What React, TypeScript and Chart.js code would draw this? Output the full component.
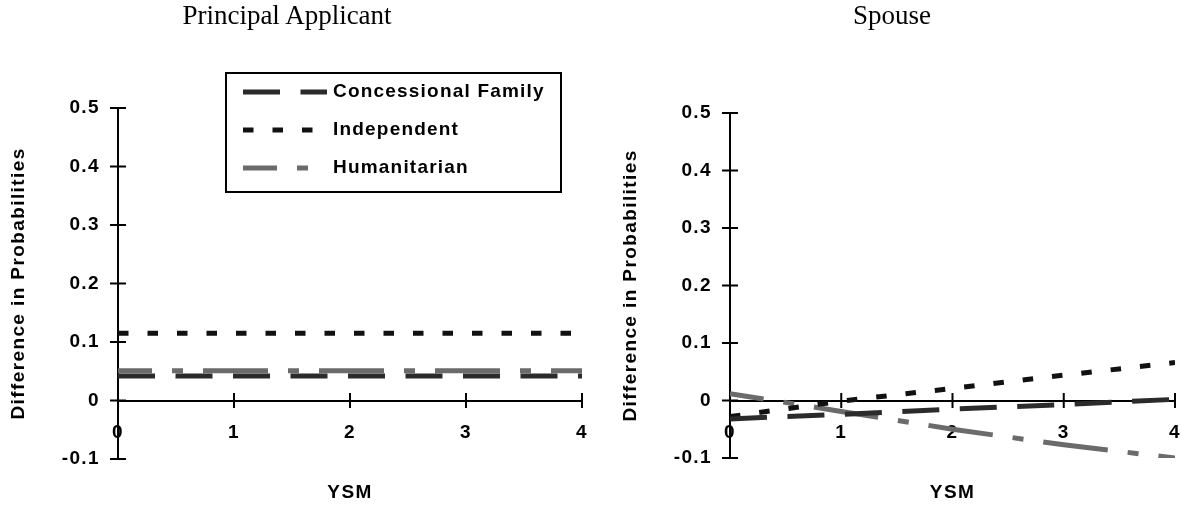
import React, { useEffect, useRef } from 'react';
import { Chart, registerables } from 'chart.js';

Chart.register(...registerables);

// ---------- data ----------
const YSM_VALUES = [0, 1, 2, 3, 4];
const SERIES_NAMES = ['Concessional Family', 'Independent', 'Humanitarian'];
const PANEL_TITLES = ['Principal Applicant', 'Spouse'];
const Y_AXIS_TITLE = 'Difference in Probabilities';
const X_AXIS_TITLE = 'YSM';
const Y_MIN = -0.1;
const Y_MAX = 0.5;
const Y_STEP = 0.1;
const X_MIN = 0;
const X_MAX = 4;
const X_STEP = 1;

const PA_CONCESSIONAL = [0.042, 0.042, 0.042, 0.042, 0.042];
const PA_INDEPENDENT = [0.115, 0.115, 0.115, 0.115, 0.115];
const PA_HUMANITARIAN = [0.051, 0.051, 0.051, 0.051, 0.051];

const SP_CONCESSIONAL = [-0.032, -0.024, -0.015, -0.007, 0.002];
const SP_INDEPENDENT = [-0.028, -0.001, 0.021, 0.044, 0.066];
const SP_HUMANITARIAN = [0.012, -0.019, -0.05, -0.077, -0.1];

// ---------- styles ----------
const FONT = "'Liberation Sans', Arial, Helvetica, sans-serif";
const SERIF = "'Liberation Serif', 'Times New Roman', Times, serif";
const SPACING = '1.4px';

const SERIES_STYLE = [
  { color: '#2b2b2b', dash: [37, 20.5], offset: 0 },
  { color: '#111111', dash: [10.5, 19], offset: 0 },
  { color: '#6b6b6b', dash: [65, 20, 11, 20], offset: 31 },
];

function buildDatasets(values: number[][]) {
  return values.map((vals, i) => ({
    label: SERIES_NAMES[i],
    data: YSM_VALUES.map((x, j) => ({ x, y: vals[j] })),
    borderColor: SERIES_STYLE[i].color,
    backgroundColor: SERIES_STYLE[i].color,
    borderWidth: 5,
    borderDash: SERIES_STYLE[i].dash,
    borderDashOffset: SERIES_STYLE[i].offset,
    borderCapStyle: 'butt',
    pointRadius: 0,
    pointHoverRadius: 0,
    tension: 0,
    fill: false,
  }));
}

const spacingPlugin = {
  id: 'spacing',
  afterInit(chart: any) { chart.ctx.letterSpacing = SPACING; },
  beforeUpdate(chart: any) { chart.ctx.letterSpacing = SPACING; },
  beforeDraw(chart: any) { chart.ctx.letterSpacing = SPACING; },
};

const crossTicksPlugin = {
  id: 'crossTicks',
  beforeDatasetsDraw(chart: any) {
    const { ctx, chartArea, scales } = chart;
    const xs = scales.x;
    const ys = scales.y;
    const y0 = ys.getPixelForValue(0);
    ctx.save();
    ctx.strokeStyle = '#000';
    ctx.lineWidth = 2;
    ctx.setLineDash([]);
    ctx.beginPath();
    xs.ticks.forEach((t: any) => {
      const px = xs.getPixelForValue(t.value);
      ctx.moveTo(px, y0 - 7.5);
      ctx.lineTo(px, y0 + 7.5);
    });
    ys.ticks.forEach((t: any) => {
      const py = ys.getPixelForValue(t.value);
      ctx.moveTo(chartArea.left - 8, py);
      ctx.lineTo(chartArea.left + 8, py);
    });
    ctx.stroke();
    ctx.restore();
  },
};

const LEGEND_BOX = { x: 226, y: 73, w: 335, h: 119, rows: [92, 130, 168], lineX0: 243, lineX1: 327, textX: 333 };

const boxLegendPlugin = {
  id: 'boxLegend',
  afterDatasetsDraw(chart: any) {
    const { ctx } = chart;
    const L = LEGEND_BOX;
    ctx.save();
    ctx.fillStyle = '#fff';
    ctx.fillRect(L.x, L.y, L.w, L.h);
    ctx.strokeStyle = '#000';
    ctx.lineWidth = 2;
    ctx.setLineDash([]);
    ctx.strokeRect(L.x, L.y, L.w, L.h);
    chart.data.datasets.forEach((ds: any, i: number) => {
      const y = L.rows[i];
      ctx.beginPath();
      ctx.setLineDash(ds.borderDash);
      ctx.lineDashOffset = ds.borderDashOffset || 0;
      ctx.strokeStyle = ds.borderColor;
      ctx.lineWidth = ds.borderWidth;
      ctx.lineCap = 'butt';
      ctx.moveTo(L.lineX0, y);
      ctx.lineTo(L.lineX1, y);
      ctx.stroke();
      ctx.setLineDash([]);
      ctx.fillStyle = '#000';
      ctx.font = `bold 19px ${FONT}`;
      ctx.letterSpacing = '1.2px';
      ctx.textBaseline = 'middle';
      ctx.textAlign = 'left';
      ctx.fillText(ds.label, L.textX, y);
    });
    ctx.restore();
  },
};

function makeOptions(pad: { top: number; right: number; bottom: number }) {
  return {
    responsive: false,
    animation: false,
    events: [],
    layout: { padding: { left: 0, right: pad.right, top: pad.top, bottom: pad.bottom } },
    plugins: {
      legend: { display: false },
      tooltip: { enabled: false },
      title: { display: false },
    },
    scales: {
      x: {
        type: 'linear',
        position: { y: 0 },
        min: X_MIN,
        max: X_MAX,
        afterFit: (scale: any) => { scale.paddingLeft = 0; scale.paddingRight = 0; },
        grid: { display: true, drawOnChartArea: false, drawTicks: false },
        border: { display: true, color: '#000', width: 2 },
        ticks: {
          stepSize: X_STEP,
          padding: 21,
          maxRotation: 0,
          color: '#000',
          font: { family: FONT, size: 19, weight: 'bold' },
          callback: (v: number) => String(v),
        },
        title: {
          display: true,
          text: X_AXIS_TITLE,
          color: '#000',
          font: { family: FONT, size: 19, weight: 'bold' },
          padding: { top: 16, bottom: 0 },
        },
      },
      y: {
        type: 'linear',
        position: 'left',
        min: Y_MIN,
        max: Y_MAX,
        afterFit: (scale: any) => { scale.width = 118; },
        grid: { display: true, drawOnChartArea: false, drawTicks: false },
        border: { display: true, color: '#000', width: 2 },
        ticks: {
          stepSize: Y_STEP,
          padding: 18,
          color: '#000',
          font: { family: FONT, size: 19, weight: 'bold' },
          callback: (v: number) => String(Math.round(v * 10) / 10),
        },
        title: {
          display: true,
          text: Y_AXIS_TITLE,
          color: '#000',
          font: { family: FONT, size: 19, weight: 'bold' },
          padding: { top: 7, bottom: 0 },
        },
      },
    },
  };
}

function Panel(props: { left: number; width: number; values: number[][]; pad: any; legend: boolean }) {
  const ref = useRef<HTMLCanvasElement | null>(null);
  useEffect(() => {
    if (!ref.current) return;
    const plugins: any[] = [spacingPlugin, crossTicksPlugin];
    if (props.legend) plugins.push(boxLegendPlugin);
    const chart = new Chart(ref.current, {
      type: 'line',
      data: { datasets: buildDatasets(props.values) as any },
      options: makeOptions(props.pad) as any,
      plugins,
    });
    return () => chart.destroy();
  }, []);
  return (
    <canvas
      ref={ref}
      width={props.width}
      height={506}
      style={{ position: 'absolute', left: props.left, top: 0, width: props.width, height: 506 }}
    />
  );
}

function titleStyle(left: number, width: number): React.CSSProperties {
  return {
    position: 'absolute',
    left,
    top: 0,
    width,
    textAlign: 'center',
    fontFamily: SERIF,
    fontSize: 27,
    lineHeight: '30px',
    color: '#000',
    whiteSpace: 'nowrap',
  };
}

export default function App() {
  return (
    <div style={{ position: 'absolute', left: 0, top: 0, width: 1181, height: 506, background: '#fff', overflow: 'hidden' }}>
      <Panel left={0} width={595} values={[PA_CONCESSIONAL, PA_INDEPENDENT, PA_HUMANITARIAN]} pad={{ top: 108, right: 13, bottom: 47 }} legend={true} />
      <Panel left={612} width={569} values={[SP_CONCESSIONAL, SP_INDEPENDENT, SP_HUMANITARIAN]} pad={{ top: 113, right: 6, bottom: 48 }} legend={false} />
      <div style={titleStyle(0, 574)}>{PANEL_TITLES[0]}</div>
      <div style={titleStyle(612, 560)}>{PANEL_TITLES[1]}</div>
    </div>
  );
}
